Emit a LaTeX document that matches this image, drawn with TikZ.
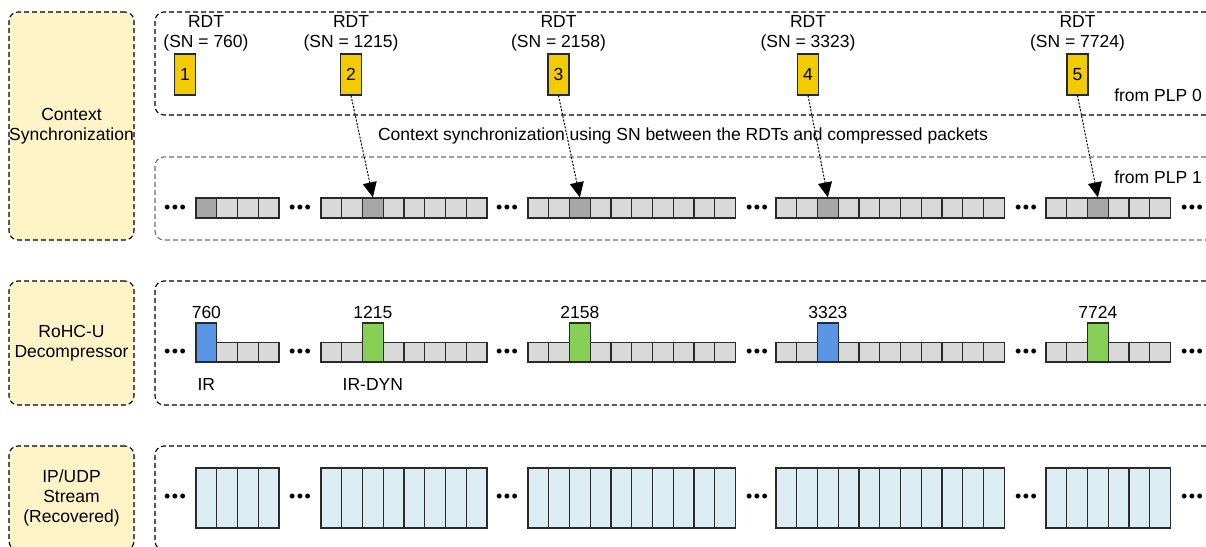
\documentclass[tikz,border=0pt]{standalone}
\usepackage{fontspec}
\setmainfont{Liberation Sans}
\usetikzlibrary{arrows.meta}
\definecolor{labelfill}{HTML}{FFF4C8}
\definecolor{cellgray}{HTML}{D9D9D9}
\definecolor{celldark}{HTML}{A6A6A6}
\definecolor{irblue}{HTML}{5A96E3}
\definecolor{dyngreen}{HTML}{88CF57}
\definecolor{streamblue}{HTML}{DCEDF4}
\definecolor{rdtyellow}{HTML}{F2CC00}
\definecolor{edgecol}{HTML}{2A2A2A}
\definecolor{lanegray}{HTML}{6F6F6F}
\begin{document}
\begin{tikzpicture}[x=1pt,y=-1pt,
  font=\fontsize{17.5}{20}\selectfont,
  labelbox/.style={draw=black, dash pattern=on 5pt off 3pt, rounded corners=9pt,
    fill=labelfill, line width=1.1pt, inner sep=0pt, align=center, minimum width=125pt},
  lanebox/.style={draw=black, dash pattern=on 5pt off 3pt, rounded corners=9pt,
    line width=1.1pt, inner sep=0pt, minimum width=1060pt},
  cellbox/.style={draw=edgecol, line width=1.3pt, inner sep=0pt, minimum width=20.75pt},
  rdtbox/.style={draw=edgecol, line width=1.1pt, fill=rdtyellow, inner sep=0pt,
    minimum width=21pt, minimum height=41pt},
  rdtlabel/.style={align=center, inner sep=0pt},
  dotsnode/.style={inner sep=0pt, font=\fontsize{18}{18}\selectfont},
  syncarrow/.style={draw=black, line width=1pt, dash pattern=on 2pt off 1.5pt,
    -{Triangle[length=15pt,width=14pt,fill=black]}},
]
\clip (0,0) rectangle (1206,546);
\fill[white] (0,0) rectangle (1206,546);

% left label boxes
\node[labelbox, minimum height=228pt] (ctx) at (71.5,126) {Context\\Synchronization};
\node[labelbox, minimum height=124pt] (dec) at (71.5,343) {RoHC-U\\Decompressor};
\node[labelbox, minimum height=104pt] (ipu) at (71.5,498) {IP/UDP\\Stream\\(Recovered)};

% lane boxes
\node[lanebox, minimum height=103pt] (plp0box) at (685,63.5) {};
\node[lanebox, draw=lanegray, minimum height=83pt] (plp1box) at (685,198.5) {};
\node[lanebox, minimum height=124pt] (decbox) at (685,343) {};
\node[lanebox, minimum height=104pt] (ipbox) at (685,498) {};

% RDTs
\node[rdtbox] (r1) at (185,74.5) {1};
\node[rdtbox] (r2) at (351,74.5) {2};
\node[rdtbox] (r3) at (558.5,74.5) {3};
\node[rdtbox] (r4) at (808,74.5) {4};
\node[rdtbox] (r5) at (1077.5,74.5) {5};
\node[rdtlabel] (l1) at (206,33) {RDT\\(SN = 760)};
\node[rdtlabel] (l2) at (351,33) {RDT\\(SN = 1215)};
\node[rdtlabel] (l3) at (558.5,33) {RDT\\(SN = 2158)};
\node[rdtlabel] (l4) at (808,33) {RDT\\(SN = 3323)};
\node[rdtlabel] (l5) at (1077.5,33) {RDT\\(SN = 7724)};
\node[anchor=east, inner sep=0pt] (from0) at (1202,95) {from PLP 0};
\node[anchor=east, inner sep=0pt] (from1) at (1202,177) {from PLP 1};
\node[inner sep=0pt] (synctext) at (683,136) {Context synchronization using SN between the RDTs and compressed packets};

% packet rows
\foreach \s/\x/\n/\k/\c in {A/196/4/1/irblue, B/321/8/3/dyngreen, C/528/10/3/dyngreen, D/776/11/3/irblue, E/1046/6/3/dyngreen} {
  \foreach \i in {1,...,\n} {
    \pgfmathsetmacro\cx{\x+(\i-0.5)*20.75}
    \ifnum\i=\k
      \node[cellbox, fill=celldark, minimum height=20pt] (p\s\i) at (\cx,208) {};
      \node[cellbox, fill=\c, minimum height=39pt] (q\s\i) at (\cx,342.5) {};
    \else
      \node[cellbox, fill=cellgray, minimum height=20pt] (p\s\i) at (\cx,208) {};
      \node[cellbox, fill=cellgray, minimum height=19.5pt] (q\s\i) at (\cx,352.25) {};
    \fi
    \node[cellbox, fill=streamblue, minimum height=60pt] (u\s\i) at (\cx,498) {};
  }
}

% dots
\foreach \j/\dx in {1/175, 2/300, 3/507, 4/757, 5/1026, 6/1192} {
  \node[dotsnode] (da\j) at (\dx,209) {•\hspace{1.5pt}•\hspace{1.5pt}•};
  \node[dotsnode] (db\j) at (\dx,353) {•\hspace{1.5pt}•\hspace{1.5pt}•};
  \node[dotsnode] (dc\j) at (\dx,498) {•\hspace{1.5pt}•\hspace{1.5pt}•};
}

% SN labels in decompressor row
\node[inner sep=0pt] (n1) at (qA1.north |- 0,312) {760};
\node[inner sep=0pt] (n2) at (qB3.north |- 0,312) {1215};
\node[inner sep=0pt] (n3) at (qC3.north |- 0,312) {2158};
\node[inner sep=0pt] (n4) at (qD3.north |- 0,312) {3323};
\node[inner sep=0pt] (n5) at (qE3.north |- 0,312) {7724};
\node[inner sep=0pt] (irl) at (qA1.south |- 0,384) {IR};
\node[inner sep=0pt] (irdyn) at (qB3.south |- 0,384) {IR-DYN};

% synchronization arrows
\draw[syncarrow] (r2.south) -- (pB3.north);
\draw[syncarrow] (r3.south) -- (pC3.north);
\draw[syncarrow] (r4.south) -- (pD3.north);
\draw[syncarrow] (r5.south) -- (pE3.north);
\end{tikzpicture}
\end{document}
